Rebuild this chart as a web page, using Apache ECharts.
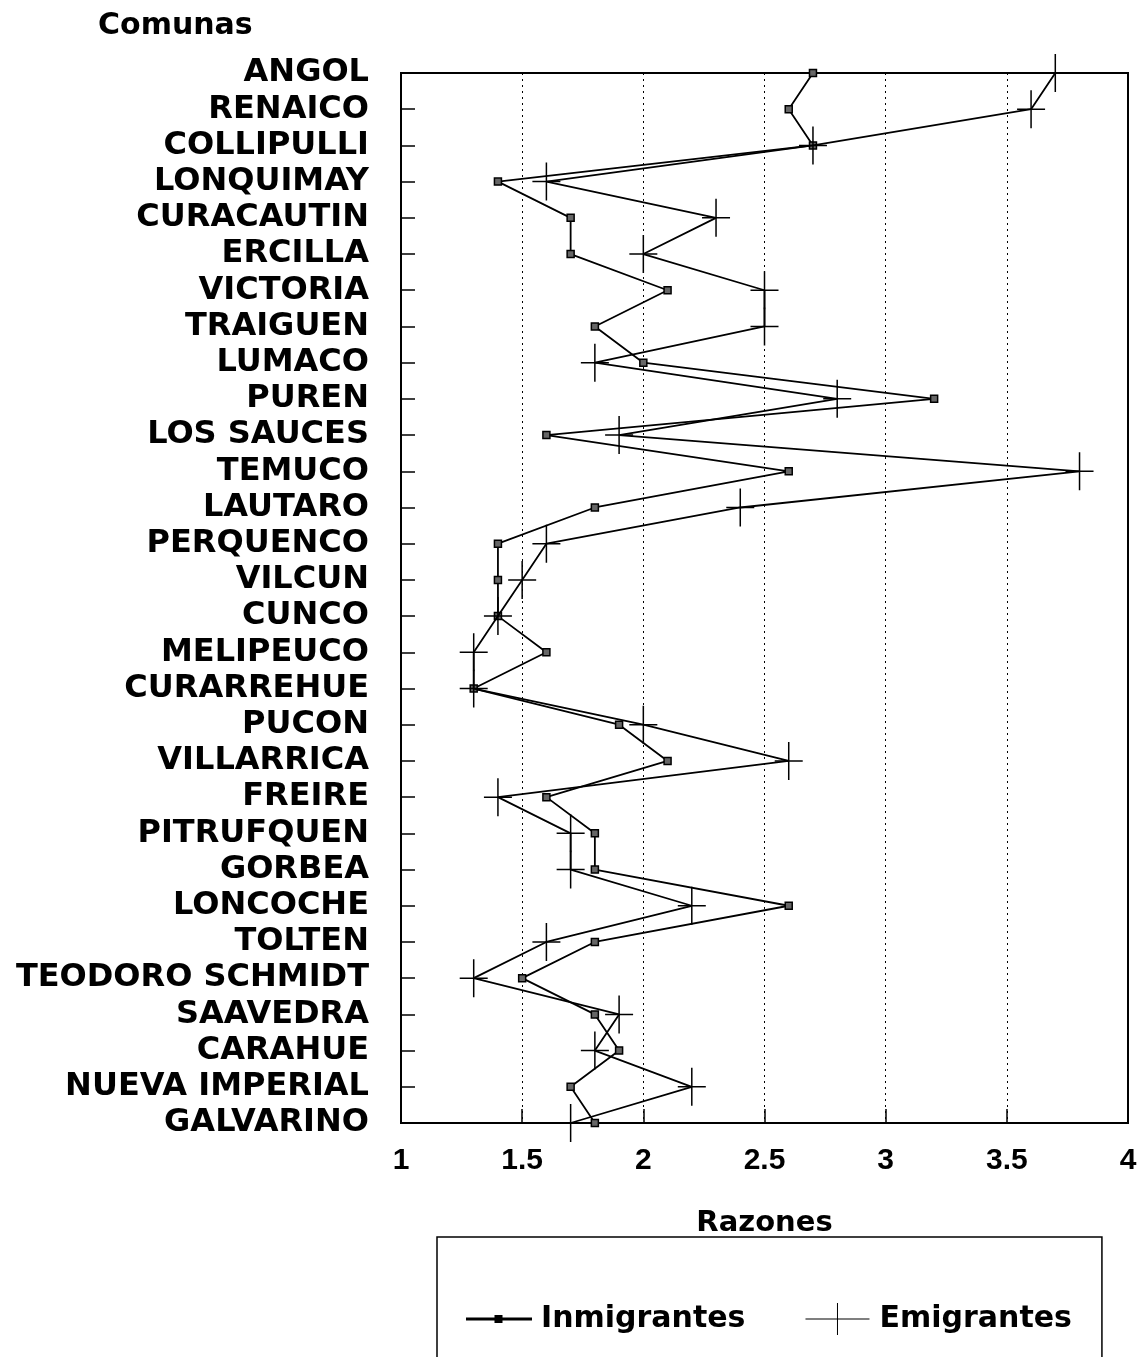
<!DOCTYPE html>
<html><head><meta charset="utf-8">
<script src="https://cdn.jsdelivr.net/npm/echarts@6/dist/echarts.min.js"></script>
<style>html,body{margin:0;padding:0;background:#fff}#c{width:1148px;height:1357px}</style>
</head><body><div id="c"></div>
<script>
const comunas = ['ANGOL','RENAICO','COLLIPULLI','LONQUIMAY','CURACAUTIN','ERCILLA','VICTORIA','TRAIGUEN','LUMACO','PUREN','LOS SAUCES','TEMUCO','LAUTARO','PERQUENCO','VILCUN','CUNCO','MELIPEUCO','CURARREHUE','PUCON','VILLARRICA','FREIRE','PITRUFQUEN','GORBEA','LONCOCHE','TOLTEN','TEODORO SCHMIDT','SAAVEDRA','CARAHUE','NUEVA IMPERIAL','GALVARINO'];
const inmigrantes = [2.7,2.6,2.7,1.4,1.7,1.7,2.1,1.8,2.0,3.2,1.6,2.6,1.8,1.4,1.4,1.4,1.6,1.3,1.9,2.1,1.6,1.8,1.8,2.6,1.8,1.5,1.8,1.9,1.7,1.8];
const emigrantes = [3.7,3.6,2.7,1.6,2.3,2.0,2.5,2.5,1.8,2.8,1.9,3.8,2.4,1.6,1.5,1.4,1.3,1.3,2.0,2.6,1.4,1.7,1.7,2.2,1.6,1.3,1.9,1.8,2.2,1.7];
const seriesNames = ['Inmigrantes','Emigrantes'];
const xAxisTitle = 'Razones';
const yAxisTitle = 'Comunas';
const xMin = 1, xMax = 4, xStep = 0.5;

const LBL = '"DejaVu Sans", sans-serif';
const plusPath = 'path://M13.25,0h1.5v38h-1.5z M0,18.25h28v1.5h-28z';
const legInm = 'path://M0,15.5h64v1h-64z M28.5,13h6v6h-6z';
const legEmi = 'path://M0,15.5h64v1h-64z M31.5,0h1v32h-1z';

const chart = echarts.init(document.getElementById('c'), null, {renderer: 'canvas'});
chart.setOption({
  backgroundColor: '#fff',
  animation: false,
  title: {
    text: yAxisTitle, left: 93, top: 6,
    textStyle: {fontFamily: LBL, fontWeight: 'bold', fontSize: 30, color: '#000'}
  },
  grid: {left: 401, right: 20, top: 73, bottom: 234, show: true, borderColor: '#000', borderWidth: 2, containLabel: false},
  xAxis: {
    type: 'value', min: xMin, max: xMax, interval: xStep,
    name: xAxisTitle, nameLocation: 'middle', nameGap: 86,
    nameTextStyle: {fontFamily: LBL, fontWeight: 'bold', fontSize: 29, color: '#000'},
    axisLine: {show: true, lineStyle: {color: '#000', width: 2}},
    axisTick: {show: true, inside: true, length: 14, lineStyle: {color: '#000', width: 1.5}},
    axisLabel: {margin: 23, color: '#000', fontFamily: '"Liberation Sans", Arial, sans-serif', fontWeight: 'bold', fontSize: 30},
    splitLine: {show: true, lineStyle: {color: '#000', width: 1, type: [2, 4]}}
  },
  yAxis: {
    type: 'category', data: comunas, inverse: true, boundaryGap: false,
    axisLine: {show: true, lineStyle: {color: '#000', width: 2}},
    axisTick: {show: true, inside: true, length: 14, lineStyle: {color: '#000', width: 1.5}},
    axisLabel: {margin: 32, color: '#000', fontFamily: LBL, fontWeight: 'bold', fontSize: 32, interval: 0},
    splitLine: {show: false}
  },
  legend: {
    left: 437, top: 1237,
    orient: 'horizontal',
    padding: [66, 30, 70, 29],
    itemGap: 60, itemWidth: 64, itemHeight: 32,
    borderColor: '#000', borderWidth: 1.5,
    textStyle: {fontFamily: LBL, fontWeight: 'bold', fontSize: 30, color: '#000', padding: [0, 0, 0, 5]},
    data: [
      {name: seriesNames[0], icon: legInm, itemStyle: {color: '#000'}},
      {name: seriesNames[1], icon: legEmi, itemStyle: {color: '#000'}}
    ]
  },
  series: [
    {
      name: seriesNames[0], type: 'line',
      data: inmigrantes.map((v, i) => [v, comunas[i]]),
      symbol: 'rect', symbolSize: 7,
      lineStyle: {color: '#000', width: 1.8},
      itemStyle: {color: '#666', borderColor: '#000', borderWidth: 1.5},
      clip: false, z: 3
    },
    {
      name: seriesNames[1], type: 'line',
      data: emigrantes.map((v, i) => [v, comunas[i]]),
      symbol: plusPath, symbolSize: [28, 38], symbolKeepAspect: false,
      lineStyle: {color: '#000', width: 1.8},
      itemStyle: {color: '#000', borderWidth: 0},
      clip: false, z: 4
    }
  ]
});
</script></body></html>
